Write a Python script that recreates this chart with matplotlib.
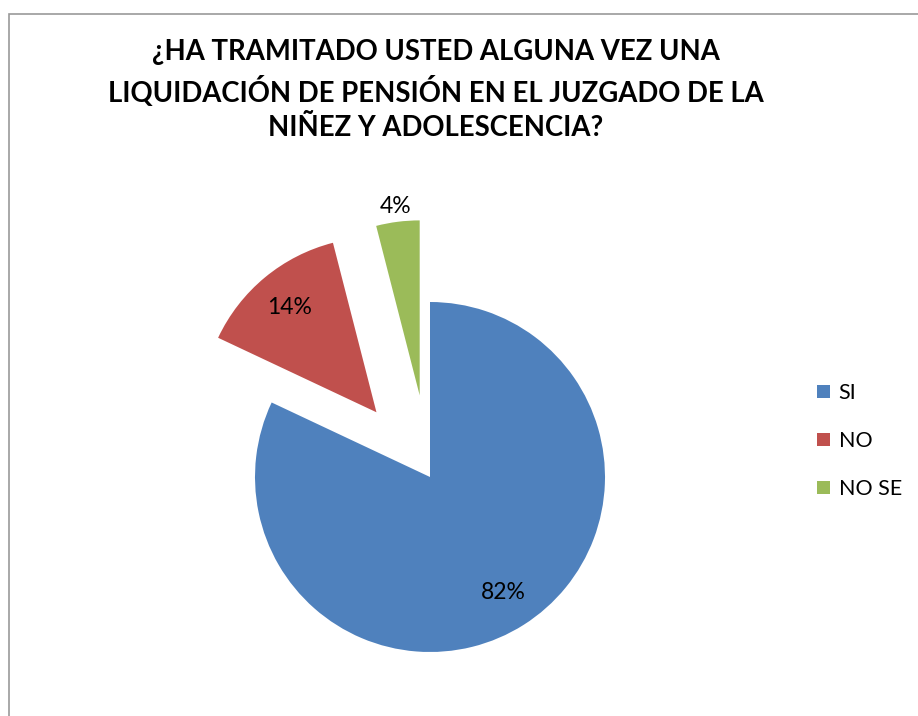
import numpy as np
import matplotlib.pyplot as plt
import matplotlib.patches as patches

# datos de la encuesta
labels = ['SI', 'NO', 'NO SE']
values = [82, 14, 4]
colors = ['#4F81BD', '#C0504D', '#9BBB59']
explode = [0, 0.48, 0.47]
title = '¿HA TRAMITADO USTED ALGUNA VEZ UNA\nLIQUIDACIÓN DE PENSIÓN EN EL JUZGADO DE LA\nNIÑEZ Y ADOLESCENCIA?'

plt.rcParams['font.family'] = ['Lato', 'DejaVu Sans']

W, H = 918, 716
fig = plt.figure(figsize=(W / 100, H / 100), dpi=100)
ax = fig.add_axes([0, 0, 1, 1])

wedges, _ = ax.pie(values, colors=colors, explode=explode, startangle=90,
                   counterclock=False, radius=1, wedgeprops=dict(linewidth=0))

# centro del pastel en pixeles y radio
cx, cy, rad = 430, 477, 175
ax.set_xlim(-cx / rad, (W - cx) / rad)
ax.set_ylim(-(H - cy) / rad, cy / rad)
ax.set_aspect('auto')
ax.axis('off')

# etiquetas de porcentaje
dist = [0.78, 0.78, 1.09]
for w, v, d in zip(wedges, values, dist):
    mid = np.deg2rad((w.theta1 + w.theta2) / 2)
    x0, y0 = w.center
    ax.text(x0 + d * np.cos(mid), y0 + d * np.sin(mid), f'{v}%',
            ha='center', va='center', fontsize=16.5)

fig.text(436 / W, 1 - 90 / H, title, ha='center', va='center',
         fontweight='bold', fontsize=19.8, linespacing=1.4)

ax.legend(wedges, labels, loc='center left', bbox_to_anchor=(817 / W, 1 - 441 / H),
          bbox_transform=fig.transFigure, frameon=False, fontsize=15.5,
          handlelength=0.6, handleheight=0.6, handletextpad=0.4,
          labelspacing=1.3, borderpad=0, borderaxespad=0)

# marco del grafico
fig.patches.append(patches.Rectangle((9 / W, -0.1), 1.2, 1.1 - 14 / H,
                                     transform=fig.transFigure, fill=False,
                                     edgecolor='#999999', lw=1.2))

fig.savefig('out.png', dpi=100)
